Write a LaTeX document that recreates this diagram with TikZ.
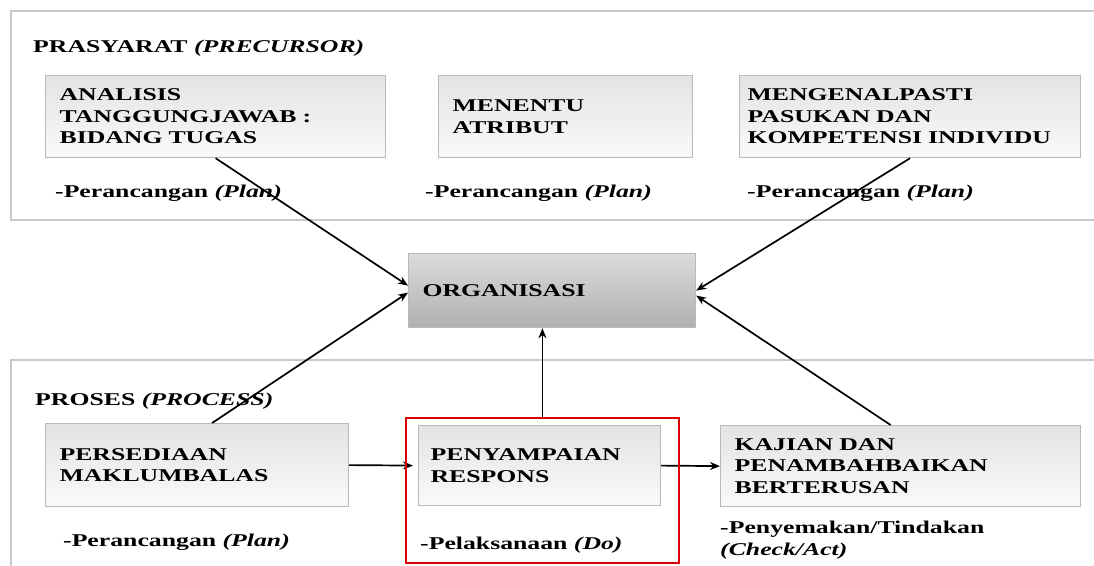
\documentclass[tikz,border=0pt]{standalone}
\usepackage{fontspec}
\setmainfont{Liberation Serif}[FakeStretch=1.43]
\usetikzlibrary{arrows.meta}
\definecolor{bingkai}{HTML}{C8C8D0}
\definecolor{garis}{HTML}{B8B8BE}

\begin{document}
\begin{tikzpicture}[x=1pt,y=-1pt,>={Stealth[length=10pt,width=8pt]},
 font=\fontsize{18}{21.5}\selectfont\bfseries,
 kotak/.style={draw=garis,line width=1.2pt,top color=gray!22,bottom color=gray!4,
  anchor=north west,align=left,inner xsep=14pt,minimum height=82pt},
 catat/.style={anchor=base west,inner sep=0pt},
 panah/.style={->,line width=1.7pt}]
 \fill[white] (0,0) rectangle (1094,565);
 \useasboundingbox (0,0) rectangle (1094,565);
 % panel
 \draw[bingkai,line width=2pt] (11,11) rectangle (1110,220);
 \draw[bingkai,line width=2pt] (11,360) rectangle (1110,580);
 \node[catat] (prasyarat) at (33,52) {PRASYARAT \textit{(PRECURSOR)}};
 \node[catat] (proses) at (35,405) {PROSES \textit{(PROCESS)}};
 % prasyarat
 \node[kotak,text width=312pt] (analisis) at (45,75) {ANALISIS\\TANGGUNGJAWAB :\\BIDANG TUGAS};
 \node[kotak,text width=226pt] (atribut) at (438,75) {MENENTU\\ATRIBUT};
 \node[kotak,text width=325pt,inner xsep=8pt] (pasukan) at (739,75) {MENGENALPASTI\\PASUKAN DAN\\KOMPETENSI INDIVIDU};
 \node[catat] (rancang1) at (55,197) {-Perancangan \textit{(Plan)}};
 \node[catat] (rancang2) at (425,197) {-Perancangan \textit{(Plan)}};
 \node[catat] (rancang3) at (747,197) {-Perancangan \textit{(Plan)}};
 % organisasi
 \node[kotak,top color=gray!28,bottom color=gray!62,text width=259pt,minimum height=74pt] (org) at (408,253) {ORGANISASI};
 % proses
 \node[kotak,text width=275pt,minimum height=83pt] (sedia) at (45,423) {PERSEDIAAN\\MAKLUMBALAS};
 \node[kotak,text width=218pt,inner xsep=12pt,minimum height=80pt] (respons) at (418,425) {PENYAMPAIAN\\RESPONS};
 \node[kotak,text width=332pt,minimum height=81pt] (kajian) at (720,425) {KAJIAN DAN\\PENAMBAHBAIKAN\\BERTERUSAN};
 \node[catat] (rancang4) at (63,546) {-Perancangan \textit{(Plan)}};
 \node[catat] (laksana) at (420,549) {-Pelaksanaan \textit{(Do)}};
 \node[catat] (semak) at (720,533) {-Penyemakan/Tindakan};
 \node[catat] (semak2) at (720,555) {\textit{(Check/Act)}};
 % anak panah
 \draw[panah] (analisis.south) -- ([yshift=5pt]org.west);
 \draw[panah] ([xshift=15pt]sedia.north) -- ([yshift=-2pt]org.west);
 \draw[panah] (pasukan.south) -- (org.east);
 \draw[panah] ([xshift=-10pt]kajian.north) -- ([yshift=-5pt]org.east);
 \draw[panah,shorten >=5pt] (sedia.east) -- (respons.west);
 \draw[panah] (respons.east) -- (kajian.west);
 \node[draw=red!85!black,line width=1.8pt,minimum width=273pt,minimum height=145pt,
  anchor=north west,inner sep=0pt] (sorot) at (405,417) {};
 \draw[panah] (sorot.north) -- (sorot.north |- org.south);
\end{tikzpicture}
\end{document}
